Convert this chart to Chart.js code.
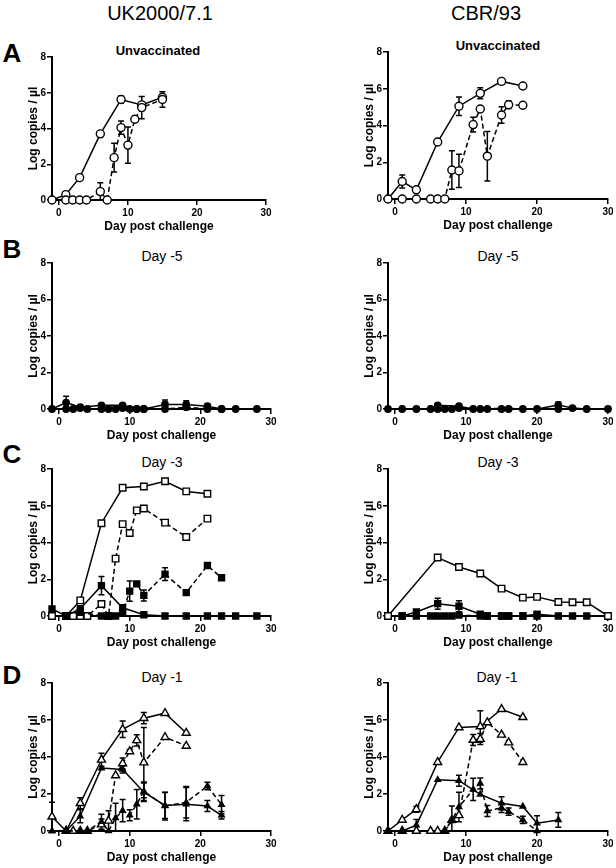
<!DOCTYPE html>
<html>
<head>
<meta charset="utf-8">
<script src="https://cdn.jsdelivr.net/npm/chart.js@4.4.1/dist/chart.umd.min.js"></script>
<style>
  body { margin: 0; background: #fff; width: 616px; height: 868px; overflow: hidden; position: relative;
         font-family: Arial, "Liberation Sans", sans-serif; }
  canvas { position: absolute; }
  .lbl { position: absolute; transform: translate(-50%, -50%); line-height: 1; white-space: nowrap; color: #000; }
  .head { font-size: 20px; }
  .letter { font-size: 26px; font-weight: bold; }
  .ptitle { font-size: 14px; }
  .bold { font-size: 13px; font-weight: bold; }
</style>
</head>
<body>
<div class="lbl head" style="left:160px;top:13px">UK2000/7.1</div>
<div class="lbl head" style="left:486px;top:13px">CBR/93</div>

<div class="lbl letter" style="left:12px;top:53px">A</div>
<div class="lbl letter" style="left:12px;top:249px">B</div>
<div class="lbl letter" style="left:12px;top:454px">C</div>
<div class="lbl letter" style="left:12px;top:675px">D</div>

<div class="lbl bold" style="left:158px;top:50px">Unvaccinated</div>
<div class="lbl bold" style="left:498px;top:45px">Unvaccinated</div>
<div class="lbl ptitle" style="left:162px;top:256px">Day -5</div>
<div class="lbl ptitle" style="left:498px;top:256px">Day -5</div>
<div class="lbl ptitle" style="left:162px;top:462px">Day -3</div>
<div class="lbl ptitle" style="left:498px;top:462px">Day -3</div>
<div class="lbl ptitle" style="left:162px;top:677px">Day -1</div>
<div class="lbl ptitle" style="left:497px;top:677px">Day -1</div>

<script>
// axes
const xTicks = [0, 10, 20, 30];
const yTicks = [0, 2, 4, 6, 8];

// A - unvaccinated, UK2000/7.1
const ukA_solidDays = [-1, 1, 3, 6, 9, 12, 15];
const ukA_solidVals = [0, 0.3, 1.25, 3.7, 5.62, 5.32, 5.75];
const ukA_solidErr  = [0, 0.15, 0, 0, 0.2, 0.1, 0.15];
const ukA_dashDays  = [1, 2, 3, 4, 6, 7, 8, 9, 10, 11, 12, 15];
const ukA_dashVals  = [0, 0, 0, 0, 0.47, 0, 2.37, 4.05, 3.07, 4.52, 5.17, 5.62];
const ukA_dashErr   = [0, 0, 0, 0, 0.5, 0, 0.8, 0.37, 1.02, 0.15, 0.62, 0.43];

// A - unvaccinated, CBR/93
const cbrA_solidDays = [-1, 1, 3, 6, 9, 12, 15, 18];
const cbrA_solidVals = [0, 0.95, 0.5, 3.1, 5.05, 5.75, 6.4, 6.15];
const cbrA_solidErr  = [0, 0.35, 0.1, 0.15, 0.5, 0.3, 0.05, 0];
const cbrA_dashDays  = [1, 3, 5, 6, 7, 8, 9, 11, 12, 13, 15, 16, 18];
const cbrA_dashVals  = [0, 0, 0, 0, 0, 1.58, 1.53, 4.05, 4.9, 2.33, 4.57, 5.13, 5.1];
const cbrA_dashErr   = [0, 0, 0, 0, 0, 1.05, 0.9, 0.4, 0.1, 1.35, 0.45, 0.2, 0];

// B - day -5, UK2000/7.1
const ukB_solidDays = [-1, 1, 3, 6, 9, 11, 12, 15, 18, 21, 23];
const ukB_solidVals = [0, 0.35, 0.1, 0.2, 0.2, 0, 0, 0.25, 0.25, 0.15, 0];
const ukB_solidErr  = [0, 0.35, 0.05, 0.05, 0.1, 0, 0, 0.25, 0.2, 0.1, 0];
const ukB_dashDays  = [1, 2, 3, 4, 6, 7, 8, 9, 10, 11, 12, 15, 18, 21, 23, 25, 28];
const ukB_dashVals  = [0, 0, 0.05, 0, 0, 0, 0, 0.05, 0, 0, 0, 0, 0.1, 0, 0, 0, 0];

// B - day -5, CBR/93
const cbrB_solidDays = [-1, 1, 3, 5, 6, 9, 11, 12, 13, 15, 16, 18, 20, 23, 25, 27, 30];
const cbrB_solidVals = [0, 0, 0, 0, 0.2, 0.15, 0, 0, 0, 0, 0, 0, 0, 0.22, 0.05, 0, 0];
const cbrB_solidErr  = [0, 0, 0, 0, 0.05, 0.05, 0, 0, 0, 0, 0, 0, 0, 0.15, 0, 0, 0];
const cbrB_dashDays  = [6, 7, 8, 9, 23];
const cbrB_dashVals  = [0, 0, 0, 0.05, 0];

// C - day -3, UK2000/7.1
const ukC_openSolidDays = [-1, 1, 3, 6, 9, 12, 15, 18, 21];
const ukC_openSolidVals = [0, 0, 0.85, 5.05, 6.98, 7.05, 7.33, 6.78, 6.65];
const ukC_openDashDays  = [1, 2, 3, 4, 6, 7, 8, 9, 10, 11, 12, 15, 18, 21];
const ukC_openDashVals  = [0, 0, 0, 0, 0.65, 0, 3.12, 5.0, 4.52, 5.75, 5.85, 5.08, 4.3, 5.3];
const ukC_fillSolidDays = [-1, 1, 3, 6, 9, 12, 15, 18, 21, 23, 25, 28];
const ukC_fillSolidVals = [0.38, 0, 0.4, 1.65, 0.45, 0.07, 0, 0, 0, 0, 0, 0];
const ukC_fillSolidErr  = [0, 0, 0, 0.5, 0.05, 0, 0, 0, 0, 0, 0, 0];
const ukC_fillDashDays  = [3, 6, 7, 8, 9, 10, 11, 12, 15, 18, 21, 23];
const ukC_fillDashVals  = [0.2, 0, 0, 0, 0.2, 1.35, 1.75, 1.12, 2.28, 1.27, 2.75, 2.08];
const ukC_fillDashErr   = [0, 0, 0, 0, 0, 0.55, 0.1, 0.3, 0.35, 0, 0, 0.1];

// C - day -3, CBR/93
const cbrC_openDays      = [-1, 6, 9, 12, 15, 18, 20, 23, 25, 27, 30];
const cbrC_openVals      = [0, 3.18, 2.67, 2.31, 1.49, 1.0, 1.04, 0.76, 0.75, 0.75, 0];
const cbrC_fillSolidDays = [1, 3, 6, 9, 12, 13, 15, 16, 18, 20, 23, 25, 27];
const cbrC_fillSolidVals = [0, 0.22, 0.67, 0.53, 0.1, 0, 0, 0, 0, 0.1, 0, 0, 0];
const cbrC_fillSolidErr  = [0, 0.05, 0.3, 0.3, 0.05, 0, 0, 0, 0, 0.1, 0, 0, 0];
const cbrC_fillDashDays  = [1, 3, 5, 6, 7, 8, 9, 12, 13, 15, 16, 18, 20];
const cbrC_fillDashVals  = [0, 0, 0, 0, 0, 0, 0.05, 0, 0, 0, 0, 0, 0];

// D - day -1, UK2000/7.1
const ukD_openSolidDays = [-1, 1, 3, 6, 9, 12, 15, 18];
const ukD_openSolidVals = [0.77, 0, 1.5, 3.85, 5.5, 6.1, 6.37, 5.3];
const ukD_openSolidErr  = [0, 0, 0.3, 0.35, 0.45, 0.3, 0, 0];
const ukD_openDashDays  = [1, 2, 3, 4, 6, 7, 8, 9, 10, 11, 12, 15, 18];
const ukD_openDashVals  = [0, 0, 0, 0, 0.35, 0.55, 3.0, 3.65, 4.3, 4.9, 3.7, 5.07, 4.6];
const ukD_openDashErr   = [0, 0, 0, 0, 0.3, 0.55, 0, 0.3, 0.1, 0.3, 1.9, 0, 0];
const ukD_fillSolidDays = [-1, 1, 3, 6, 9, 12, 15, 18, 21, 23];
const ukD_fillSolidVals = [0, 0, 0.8, 3.4, 3.33, 2.1, 1.38, 1.45, 1.35, 0.85];
const ukD_fillSolidErr  = [0, 0, 0.35, 0, 0.2, 0.5, 0.7, 0.9, 0.3, 0.2];
const ukD_fillDashDays  = [-1, 1, 3, 4, 6, 7, 8, 9, 10, 11, 12, 15, 18, 21, 23];
const ukD_fillDashVals  = [0, 0, 0, 0, 0.5, 0, 0.7, 1.1, 0.85, 1.45, 2.15, 1.35, 1.55, 2.43, 1.42];
const ukD_fillDashErr   = [1.55, 0, 0, 0, 0.4, 0, 0.8, 0.6, 0.3, 0.8, 0.5, 0.75, 0.85, 0.2, 0.5];

// D - day -1, CBR/93
const cbrD_openSolidDays = [-1, 1, 3, 6, 9, 12, 15, 18];
const cbrD_openSolidVals = [0, 0.6, 1.17, 3.72, 5.6, 5.65, 6.58, 6.15];
const cbrD_openSolidErr  = [0, 0, 0.15, 0, 0, 0.85, 0, 0];
const cbrD_openDashDays  = [1, 3, 5, 6, 7, 8, 9, 11, 12, 13, 15, 16, 18];
const cbrD_openDashVals  = [0, 0, 0, 0, 0, 0.6, 0.85, 4.92, 4.97, 5.87, 5.2, 4.78, 3.72];
const cbrD_openDashErr   = [0, 0, 0, 0, 0, 0, 0, 0.3, 0.3, 0, 0, 0, 0];
const cbrD_fillSolidDays = [-1, 1, 3, 6, 9, 12, 15, 18, 20, 23];
const cbrD_fillSolidVals = [0, 0, 0.32, 2.77, 2.72, 1.98, 1.5, 1.33, 0.42, 0.6];
const cbrD_fillSolidErr  = [0, 0, 0.3, 0, 0.3, 0, 0.35, 0, 0.4, 0.4];
const cbrD_fillDashDays  = [7, 8, 9, 11, 12, 13, 15, 16, 18, 20];
const cbrD_fillDashVals  = [0, 0.55, 1.3, 2.25, 2.57, 1.08, 1.25, 1.05, 0.6, 0];
const cbrD_fillDashErr   = [0, 0.8, 0.8, 0.6, 0.3, 0.3, 0.25, 0.2, 0.2, 0];

Chart.defaults.font.family = 'Arial, "Liberation Sans", sans-serif';
Chart.defaults.color = '#000';

const MARKERS = {
    openCircle:   { style: 'circle',   r: 4,   fill: '#fff' },
    dot:          { style: 'circle',   r: 3.2, fill: '#000' },
    openSquare:   { style: 'rect',     r: 4.6, fill: '#fff' },
    square:       { style: 'rect',     r: 4.2, fill: '#000' },
    openTriangle: { style: 'triangle', r: 4.6, fill: '#fff' },
    triangle:     { style: 'triangle', r: 3.2, fill: '#000' }
};

function series(days, vals, err, marker, dashed) {
    const m = MARKERS[marker];
    return {
        data: days.map((d, i) => ({ x: d, y: vals[i] })),
        err: err,
        borderColor: '#000',
        borderWidth: 1.5,
        borderDash: dashed ? [5, 3] : [],
        pointStyle: m.style,
        pointRadius: m.r,
        pointBackgroundColor: m.fill,
        pointBorderColor: '#000',
        pointBorderWidth: 1.4,
        tension: 0,
        fill: false,
        clip: false
    };
}

// symmetric error bars with caps, drawn under the markers
const errorBars = {
    id: 'errorBars',
    beforeDatasetsDraw(chart) {
        const ctx = chart.ctx;
        const yScale = chart.scales.y;
        const area = chart.chartArea;
        ctx.save();
        ctx.beginPath();
        ctx.rect(area.left - 10, area.top - 10, area.right - area.left + 20, area.bottom - area.top + 10);
        ctx.clip();
        ctx.strokeStyle = '#000';
        ctx.lineWidth = 1.5;
        chart.data.datasets.forEach((ds, i) => {
            if (!ds.err) return;
            const meta = chart.getDatasetMeta(i);
            meta.data.forEach((pt, j) => {
                const e = ds.err[j];
                if (!e) return;
                const v = ds.data[j].y;
                const top = yScale.getPixelForValue(v + e);
                const bot = yScale.getPixelForValue(v - e);
                ctx.beginPath();
                ctx.moveTo(pt.x, top); ctx.lineTo(pt.x, bot);
                ctx.moveTo(pt.x - 3, top); ctx.lineTo(pt.x + 3, top);
                ctx.moveTo(pt.x - 3, bot); ctx.lineTo(pt.x + 3, bot);
                ctx.stroke();
            });
        });
        ctx.restore();
    }
};

// plot boxes: [left, right, top, bottom] of the axes in page pixels
const panels = [
    { box: [52, 266, 57, 200], datasets: [
        series(ukA_dashDays, ukA_dashVals, ukA_dashErr, 'openCircle', true),
        series(ukA_solidDays, ukA_solidVals, ukA_solidErr, 'openCircle', false) ] },
    { box: [388, 608, 52, 199], datasets: [
        series(cbrA_dashDays, cbrA_dashVals, cbrA_dashErr, 'openCircle', true),
        series(cbrA_solidDays, cbrA_solidVals, cbrA_solidErr, 'openCircle', false) ] },
    { box: [52, 271, 263, 409], datasets: [
        series(ukB_dashDays, ukB_dashVals, null, 'dot', true),
        series(ukB_solidDays, ukB_solidVals, ukB_solidErr, 'dot', false) ] },
    { box: [388, 608, 263, 409], datasets: [
        series(cbrB_dashDays, cbrB_dashVals, null, 'dot', true),
        series(cbrB_solidDays, cbrB_solidVals, cbrB_solidErr, 'dot', false) ] },
    { box: [52, 271, 469, 616], datasets: [
        series(ukC_fillDashDays, ukC_fillDashVals, ukC_fillDashErr, 'square', true),
        series(ukC_fillSolidDays, ukC_fillSolidVals, ukC_fillSolidErr, 'square', false),
        series(ukC_openDashDays, ukC_openDashVals, null, 'openSquare', true),
        series(ukC_openSolidDays, ukC_openSolidVals, null, 'openSquare', false) ] },
    { box: [388, 608, 469, 616], datasets: [
        series(cbrC_fillDashDays, cbrC_fillDashVals, null, 'square', true),
        series(cbrC_fillSolidDays, cbrC_fillSolidVals, cbrC_fillSolidErr, 'square', false),
        series(cbrC_openDays, cbrC_openVals, null, 'openSquare', false) ] },
    { box: [52, 271, 683, 831], datasets: [
        series(ukD_fillDashDays, ukD_fillDashVals, ukD_fillDashErr, 'triangle', true),
        series(ukD_fillSolidDays, ukD_fillSolidVals, ukD_fillSolidErr, 'triangle', false),
        series(ukD_openDashDays, ukD_openDashVals, ukD_openDashErr, 'openTriangle', true),
        series(ukD_openSolidDays, ukD_openSolidVals, ukD_openSolidErr, 'openTriangle', false) ] },
    { box: [388, 608, 683, 831], datasets: [
        series(cbrD_fillDashDays, cbrD_fillDashVals, cbrD_fillDashErr, 'triangle', true),
        series(cbrD_fillSolidDays, cbrD_fillSolidVals, cbrD_fillSolidErr, 'triangle', false),
        series(cbrD_openDashDays, cbrD_openDashVals, cbrD_openDashErr, 'openTriangle', true),
        series(cbrD_openSolidDays, cbrD_openSolidVals, cbrD_openSolidErr, 'openTriangle', false) ] }
];

const Y_BOX = 30, X_BOX = 38, PAD_TOP = 8, PAD_RIGHT = 8;

function makeChart(p) {
    const [l, r, t, b] = p.box;
    const w = r - l + Y_BOX + PAD_RIGHT;
    const h = b - t + PAD_TOP + X_BOX;
    const cv = document.createElement('canvas');
    cv.width = w;
    cv.height = h;
    cv.style.left = (l - Y_BOX) + 'px';
    cv.style.top = (t - PAD_TOP) + 'px';
    cv.style.width = w + 'px';
    cv.style.height = h + 'px';
    document.body.appendChild(cv);

    const tickFont = { size: 10, weight: 'bold' };
    new Chart(cv, {
        type: 'line',
        data: { datasets: p.datasets },
        plugins: [errorBars],
        options: {
            responsive: false,
            animation: false,
            devicePixelRatio: 1,
            events: [],
            layout: { padding: { top: PAD_TOP, right: PAD_RIGHT, left: 0, bottom: 0 } },
            plugins: { legend: { display: false }, tooltip: { enabled: false } },
            scales: {
                x: {
                    type: 'linear',
                    min: -1,
                    max: 30,
                    afterBuildTicks: s => { s.ticks = xTicks.map(v => ({ value: v })); },
                    afterFit: s => { s.height = X_BOX; },
                    grid: { drawOnChartArea: false, tickLength: 5, color: '#000', lineWidth: 1.5 },
                    border: { color: '#000', width: 2 },
                    ticks: { padding: 2, font: tickFont, maxRotation: 0 },
                    title: { display: true, text: 'Day post challenge',
                             font: { size: 12, weight: 'bold' }, padding: { top: 0, bottom: 4 } }
                },
                y: {
                    min: 0,
                    max: 8,
                    afterBuildTicks: s => { s.ticks = yTicks.map(v => ({ value: v })); },
                    afterFit: s => { s.width = Y_BOX; },
                    grid: { drawOnChartArea: false, tickLength: 5, color: '#000', lineWidth: 1.5 },
                    border: { color: '#000', width: 2 },
                    ticks: { padding: 1, font: tickFont },
                    title: { display: true, text: 'Log copies / µl',
                             font: { size: 12, weight: 'bold' }, padding: { top: 4, bottom: 0 } }
                }
            }
        }
    });
}

panels.forEach(makeChart);
</script>
</body>
</html>
